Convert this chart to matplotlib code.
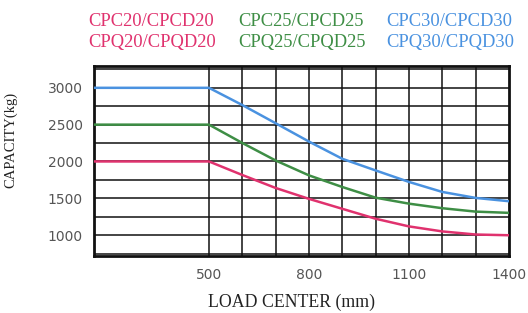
import matplotlib.pyplot as plt

# load center (mm) and capacity (kg)
load_center = [155, 500, 600, 700, 800, 900, 1000, 1100, 1200, 1300, 1400]
cap_20 = [2000, 2000, 1816, 1640, 1492, 1357, 1222, 1118, 1050, 1008, 998]
cap_25 = [2500, 2500, 2251, 2013, 1811, 1653, 1508, 1427, 1365, 1319, 1302]
cap_30 = [3000, 3000, 2766, 2519, 2270, 2036, 1878, 1722, 1586, 1505, 1460]

x_ticks = [500, 800, 1100, 1400]
y_ticks = [1000, 1500, 2000, 2500, 3000]

names_20 = ['CPC20/CPCD20', 'CPQ20/CPQD20']
names_25 = ['CPC25/CPCD25', 'CPQ25/CPQD25']
names_30 = ['CPC30/CPCD30', 'CPQ30/CPQD30']

red = '#e0326e'
green = '#3e8e45'
blue = '#4a92e0'

W, H = 528, 313
fig = plt.figure(figsize=(W / 100, H / 100), dpi=100)
ax = fig.add_axes([0.178, 0.183, 0.786, 0.607])

ax.plot(load_center, cap_30, color=blue, lw=1.8, zorder=3)
ax.plot(load_center, cap_25, color=green, lw=1.8, zorder=3)
ax.plot(load_center, cap_20, color=red, lw=1.8, zorder=3)

ax.set_xlim(155, 1400)
ax.set_ylim(720, 3300)

# grid: vertical every 100 from 500, horizontal every 250
for x in range(500, 1400, 100):
    ax.axvline(x, color='#111111', lw=1.1, zorder=1)
for y in range(750, 3300, 250):
    ax.axhline(y, color='#111111', lw=1.1, zorder=1)

for s in ax.spines.values():
    s.set_linewidth(2.0)
    s.set_color('#111111')

ax.set_xticks(x_ticks)
ax.set_yticks(y_ticks)
ax.tick_params(length=0, labelsize=10, labelcolor='#555555')
ax.tick_params(axis='x', pad=9)
ax.tick_params(axis='y', pad=8)

# axis titles placed where the reference has them
fig.text(291 / W, 1 - 302 / H, 'LOAD CENTER (mm)', family='Liberation Serif',
         fontsize=12.8, color='#222222', ha='center', va='center')
fig.text(11 / W, 1 - 140 / H, 'CAPACITY(kg)', family='Liberation Serif',
         fontsize=10.5, color='#222222', ha='center', va='center', rotation=90)

# header labels in the series colours
for names, col, xpx in [(names_20, red, 88), (names_25, green, 238), (names_30, blue, 386)]:
    for name, ypx in zip(names, [26, 47]):
        fig.text(xpx / W, 1 - ypx / H, name, color=col, fontsize=13.3,
                 family='Liberation Serif', ha='left', va='baseline')

fig.savefig('out.png', dpi=100)
